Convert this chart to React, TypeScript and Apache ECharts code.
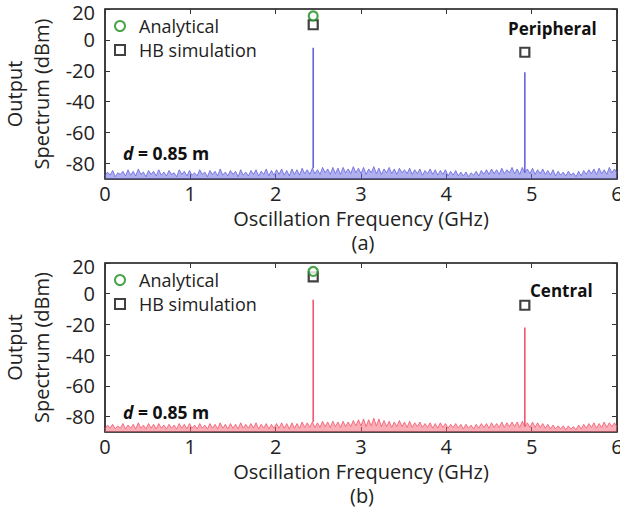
import React, { useEffect, useRef } from "react";
import * as echarts from "echarts";

// ---- Data ----
const xTicks = [0, 1, 2, 3, 4, 5, 6];
const yTicks = [-80, -60, -40, -20, 0, 20];
const freqStep = 0.03; // GHz between noise samples

// noise floor (dBm), panel (a) peripheral, 0..6 GHz
const noiseA = [
  -88, -85.5, -87.5, -84.5, -88.5, -86, -87, -85, -88, -84,
  -87.5, -85, -88, -83.5, -87, -85.5, -88.5, -84.5, -87, -85,
  -88, -84, -87.5, -85.5, -88, -84.5, -87, -86, -88.5, -84,
  -87, -85, -88, -84.5, -87.5, -86, -88, -84, -87, -85.5,
  -88.5, -84.5, -87, -85, -88, -83.5, -87.5, -85.5, -88, -84.5,
  -87, -85, -88.5, -84, -87.5, -85.5, -88, -84.5, -87, -84,
  -88, -85, -87, -83.5, -88, -84.5, -87.5, -84, -87, -83.5,
  -87.5, -84.5, -88, -83.5, -87, -84, -87.5, -83, -86.5, -84,
  -87, -83, -86.5, -84, -87, -82.5, -86, -83.5, -87, -82.5,
  -86.5, -83, -87, -82.5, -86, -83.5, -86.5, -82, -86, -83,
  -86.5, -82.5, -87, -83.5, -86, -82, -86.5, -83, -87, -83.5,
  -86, -82.5, -86.5, -83.5, -87, -83, -86, -84, -86.5, -83,
  -87, -84, -86.5, -83.5, -87.5, -84.5, -86.5, -83.5, -87, -84,
  -87.5, -84.5, -87, -84, -88, -85, -87.5, -84.5, -88, -85.5,
  -88, -85.5, -88.5, -86, -87.5, -85, -88, -84.5, -87, -84,
  -87, -83.5, -86.5, -84, -87, -83, -86.5, -84, -86, -82.5,
  -86.5, -83.5, -87, -82.5, -86, -83.5, -86.5, -83, -87, -84,
  -86.5, -83.5, -87, -84.5, -87.5, -84, -88, -85, -87.5, -85.5,
  -88, -85, -87.5, -86, -88.5, -85, -88, -84.5, -87, -84,
  -86.5, -83.5, -87, -83, -86.5, -84, -87, -82.5, -86, -83.5,
  -86,
];
// noise floor (dBm), panel (b) central, 0..6 GHz
const noiseB = [
  -88, -85.5, -87.5, -85, -88, -86, -87.5, -84.5, -88, -85.5,
  -87.5, -85, -88, -84, -87.5, -85.5, -88, -84.5, -87.5, -85,
  -88, -84.5, -87.5, -85.5, -88, -85, -87.5, -85.5, -88, -84.5,
  -87.5, -85, -88, -84.5, -87.5, -85.5, -88, -84.5, -87.5, -85.5,
  -88, -84.5, -87.5, -85, -88, -84, -87.5, -85, -88, -84.5,
  -87.5, -85, -88, -84, -87.5, -85, -87.5, -84.5, -87.5, -84,
  -88, -85, -87.5, -84.5, -88, -85, -87.5, -84.5, -87.5, -84,
  -87.5, -84.5, -88, -84, -87.5, -84.5, -87.5, -83.5, -87, -84,
  -87, -83.5, -87, -84, -87, -83, -86.5, -83.5, -87, -83,
  -86.5, -83.5, -87, -83, -86.5, -83.5, -86.5, -82.5, -86, -82,
  -86, -81.5, -86.5, -82, -86, -81, -86, -81.5, -86.5, -82.5,
  -86.5, -83, -87, -83.5, -86.5, -82.5, -86.5, -83.5, -87, -83,
  -87, -84, -86.5, -83.5, -87, -84.5, -87, -84, -87.5, -84.5,
  -87.5, -84, -87, -84.5, -87.5, -85, -87, -84.5, -87.5, -85,
  -88, -85, -87.5, -85.5, -88, -85, -87.5, -84.5, -87, -84.5,
  -87.5, -84, -87, -84.5, -87, -83.5, -87, -84, -86.5, -83.5,
  -86.5, -83.5, -87, -83, -86.5, -84, -87, -83.5, -87, -84,
  -87, -84.5, -87.5, -85, -88, -85.5, -88, -86, -88, -86,
  -88.5, -86, -88, -86.5, -88.5, -85.5, -88, -85, -87.5, -84.5,
  -87, -84, -87.5, -84.5, -87, -83.5, -87, -84, -86.5, -84,
  -86.5,
];

// spectral peaks [GHz, dBm]
const peaksA = [[2.44, -5], [4.92, -21]];
const peaksB = [[2.44, -4], [4.92, -22]];

// markers [GHz, dBm]
const analyticalA = [[2.44, 15.5]];
const hbA = [[2.44, 9.8], [4.92, -8]];
const analyticalB = [[2.44, 14.5]];
const hbB = [[2.44, 11], [4.92, -7.5]];

const noisePoints = (noise: number[]) => noise.map((v, i) => [+(i * freqStep).toFixed(3), v]);
const nearestNoise = (noise: number[], f: number) => noise[Math.round(f / freqStep)];

const FONT = "'Open Sans', 'Noto Sans', sans-serif";
const TXT = "#222";

export default function App() {
  const ref = useRef<HTMLDivElement>(null);
  useEffect(() => {
    if (!ref.current) return;
    const chart = echarts.init(ref.current, null, { renderer: "svg" });

    const grids = [
      { left: 105, top: 9, width: 512, height: 170 },
      { left: 105, top: 263, width: 512, height: 169 },
    ];

    const tick = { show: true, inside: true, length: 5, lineStyle: { color: "#333", width: 1 } };
    const topY = yTicks[yTicks.length - 1];
    const xAxes: any[] = [];
    const yAxes: any[] = [];
    [0, 1].forEach((g) => {
      xAxes.push({
        gridIndex: g,
        type: "value",
        min: 0,
        max: 6,
        interval: 1,
        position: "bottom",
        axisLine: { show: false, onZero: false },
        axisTick: { ...tick, customValues: xTicks },
        axisLabel: { fontSize: 20, color: TXT, fontFamily: FONT, margin: 4, customValues: xTicks },
        splitLine: { show: false },
        name: "Oscillation Frequency (GHz)",
        nameLocation: "middle",
        nameGap: 29,
        nameTextStyle: { fontSize: 20, color: TXT, fontFamily: FONT },
      });
      xAxes.push({
        gridIndex: g,
        type: "value",
        min: 0,
        max: 6,
        interval: 1,
        position: "top",
        axisLine: { show: false, onZero: false },
        axisTick: { ...tick, customValues: xTicks },
        axisLabel: { show: false },
        splitLine: { show: false },
      });
      yAxes.push({
        gridIndex: g,
        type: "value",
        min: -90,
        max: 20,
        position: "left",
        axisLine: { show: false, onZero: false },
        axisTick: { ...tick, customValues: yTicks },
        axisLabel: {
          fontSize: 20,
          color: TXT,
          fontFamily: FONT,
          margin: 10,
          customValues: yTicks,
          formatter: (v: number) => (v === topY ? `{t|${v}}` : `${v}`),
          rich: { t: { fontSize: 20, color: TXT, fontFamily: FONT, padding: [6, 0, 0, 0] } },
        },
        splitLine: { show: false },
        name: "Output\nSpectrum (dBm)",
        nameLocation: "middle",
        nameRotate: 90,
        nameGap: 49,
        nameTextStyle: { fontSize: 20, color: TXT, fontFamily: FONT, lineHeight: 27 },
      });
      yAxes.push({
        gridIndex: g,
        type: "value",
        min: -90,
        max: 20,
        position: "right",
        axisLine: { show: false, onZero: false },
        axisTick: { ...tick, customValues: yTicks },
        axisLabel: { show: false },
        splitLine: { show: false },
      });
    });

    const panel = (
      g: number,
      color: string,
      fill: string,
      noise: number[],
      peaks: number[][],
      analytical: number[][],
      hb: number[][]
    ) => [
      {
        type: "line",
        xAxisIndex: g * 2,
        yAxisIndex: g * 2,
        data: noisePoints(noise),
        showSymbol: false,
        lineStyle: { color, width: 0.8 },
        areaStyle: { color: fill, origin: "start" },
        z: 2,
      },
      ...peaks.map(([f, p]) => ({
        type: "line",
        xAxisIndex: g * 2,
        yAxisIndex: g * 2,
        data: [
          [f, nearestNoise(noise, f)],
          [f, p],
        ],
        showSymbol: false,
        lineStyle: { color, width: 1.6 },
        z: 2,
      })),
      {
        type: "scatter",
        name: "Analytical",
        xAxisIndex: g * 2,
        yAxisIndex: g * 2,
        data: analytical,
        symbol: "circle",
        symbolSize: 9,
        itemStyle: { color: "#fff", borderColor: "#1f8f1f", borderWidth: 2.2 },
        z: 4,
      },
      {
        type: "scatter",
        name: "HB simulation",
        xAxisIndex: g * 2,
        yAxisIndex: g * 2,
        data: hb,
        symbol: "rect",
        symbolSize: 9,
        itemStyle: { color: "#fff", borderColor: "#111", borderWidth: 2.2 },
        z: 3,
      },
    ];

    const legend = (top: number) => ({
      orient: "vertical",
      left: 114,
      top,
      padding: 0,
      itemWidth: 10,
      itemHeight: 10,
      itemGap: 6,
      data: ["Analytical", "HB simulation"],
      textStyle: { fontSize: 18, color: TXT, fontFamily: FONT, padding: [0, 0, 0, 9] },
      selectedMode: false,
    });

    const dLabel = (y: number) => ({
      type: "text",
      x: 123,
      y,
      style: {
        text: "{i|d} = 0.85 m",
        font: `bold 17.5px ${FONT}`,
        fill: "#111",
        verticalAlign: "middle",
        rich: { i: { fontStyle: "italic", fontWeight: "bold", fontSize: 17.5, fontFamily: FONT, fill: "#111" } },
      },
    });

    chart.setOption({
      animation: false,
      backgroundColor: "#fff",
      grid: grids.map((g) => ({
        ...g,
        show: true,
        borderColor: "#111",
        borderWidth: 1.6,
        backgroundColor: "transparent",
        outerBoundsMode: "none",
        containLabel: false,
      })),
      xAxis: xAxes,
      yAxis: yAxes,
      legend: [legend(17), legend(271)],
      series: [
        ...panel(0, "#6464de", "rgba(105,105,225,0.75)", noiseA, peaksA, analyticalA, hbA),
        ...panel(1, "#f2566c", "rgba(245,100,118,0.75)", noiseB, peaksB, analyticalB, hbB),
      ],
      graphic: [
        dLabel(153),
        dLabel(412),
        {
          type: "text",
          x: 508,
          y: 28,
          style: { text: "Peripheral", font: `bold 17px ${FONT}`, fill: "#111", verticalAlign: "middle" },
        },
        {
          type: "text",
          x: 530,
          y: 290,
          style: { text: "Central", font: `bold 17px ${FONT}`, fill: "#111", verticalAlign: "middle" },
        },
        {
          type: "text",
          x: 363,
          y: 242,
          style: { text: "(a)", font: `20px ${FONT}`, fill: TXT, align: "center", verticalAlign: "middle" },
        },
        {
          type: "text",
          x: 362,
          y: 495,
          style: { text: "(b)", font: `20px ${FONT}`, fill: TXT, align: "center", verticalAlign: "middle" },
        },
      ],
    });
    return () => chart.dispose();
  }, []);

  return (
    <div
      ref={ref}
      style={{ position: "fixed", left: 0, top: 0, width: 620, height: 511, background: "#fff" }}
    />
  );
}
